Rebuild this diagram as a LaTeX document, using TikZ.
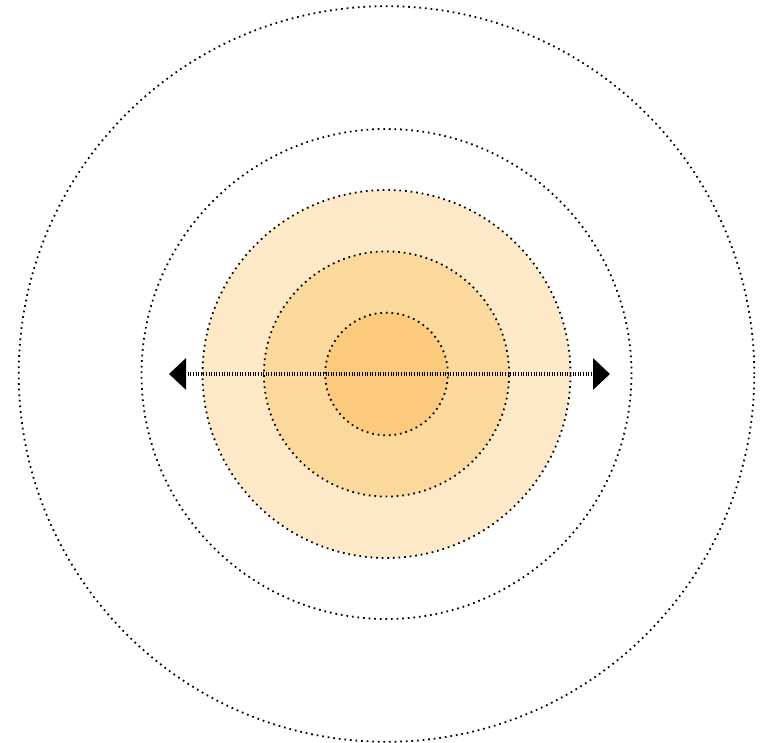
\documentclass[tikz,border=0pt]{standalone}
\usetikzlibrary{arrows.meta}
\definecolor{ringA}{HTML}{FDE8C8}
\definecolor{ringB}{HTML}{FBD89C}
\definecolor{ringC}{HTML}{FBCA7D}
\begin{document}
\begin{tikzpicture}[x=1pt,y=1pt,
  ring/.style={circle,inner sep=0pt,line width=1.8pt,dash pattern=on 1.7pt off 3.9pt,minimum size=#1},
  axisline/.style={line width=3.4pt,dash pattern=on 1.1pt off 1.5pt,
    {Triangle[length=17pt,width=31pt]}-{Triangle[length=17pt,width=31pt]}}]
\useasboundingbox (0,0) rectangle (765,743);
\coordinate (c) at (386.5,369);
\node[ring=735.6pt,draw] (r5) at (c) {};
\node[ring=490pt,draw] (r4) at (c) {};
\node[ring=368pt,draw,fill=ringA] (r3) at (c) {};
\node[ring=245.2pt,draw,fill=ringB] (r2) at (c) {};
\node[ring=122.6pt,draw,fill=ringC] (r1) at (c) {};
\coordinate (la) at (169,369);
\coordinate (ra) at (610,369);
\draw[axisline] (la) -- (ra);
\end{tikzpicture}
\end{document}
